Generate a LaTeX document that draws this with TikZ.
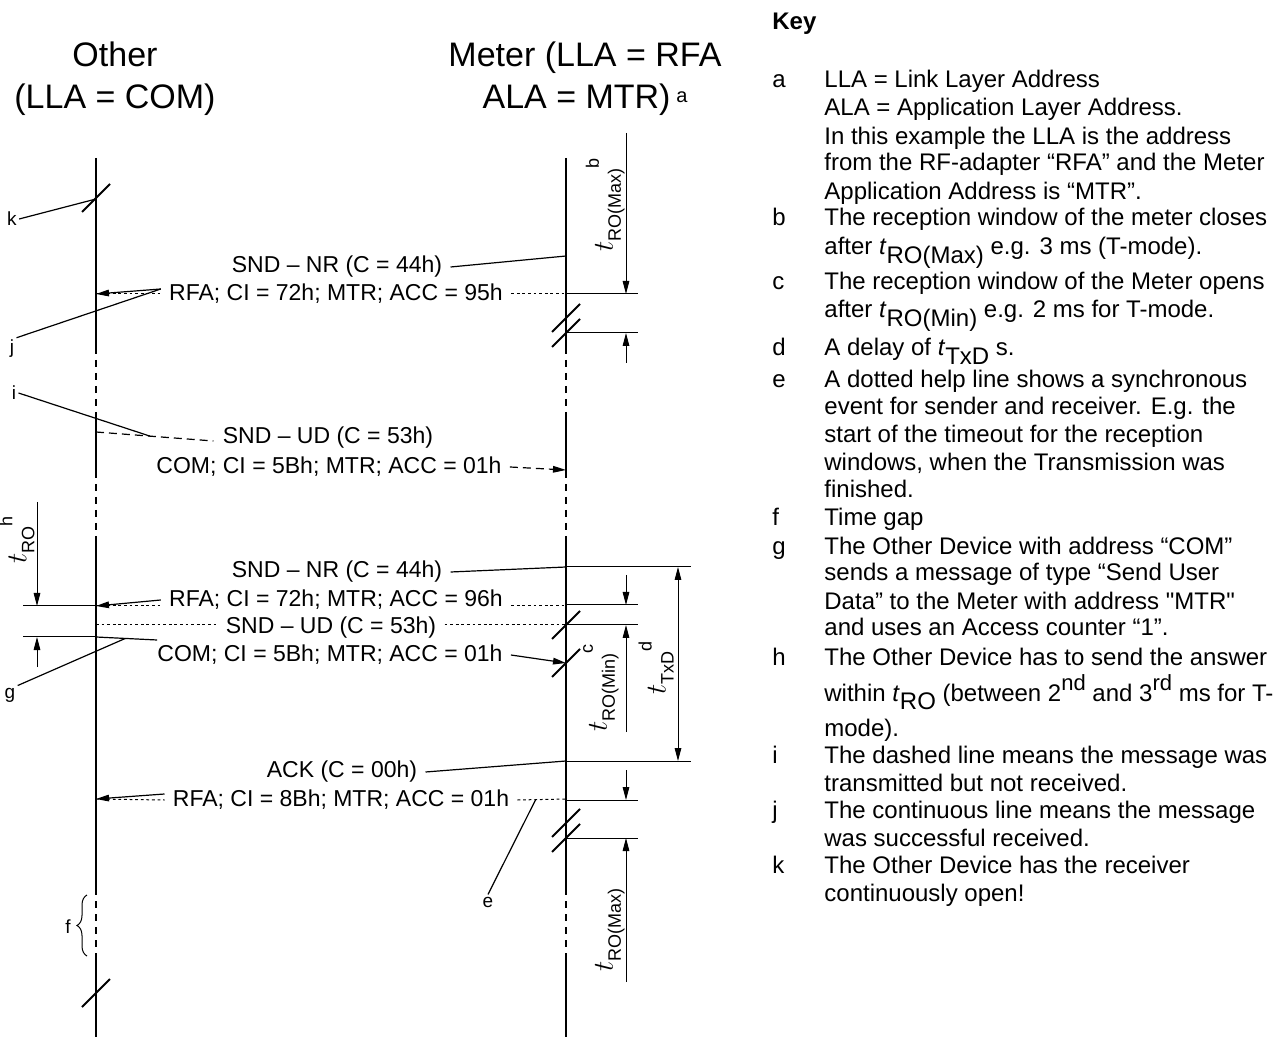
\documentclass[tikz,border=0pt]{standalone}
\usepackage{fontspec}
\setmainfont{Liberation Sans}
\usetikzlibrary{arrows.meta,calc,decorations.pathreplacing}

\newcommand{\tsym}[1]{{\fontsize{15}{15}\selectfont$t$}\raisebox{-4pt}{#1}}
\newcommand{\tagsup}[1]{\raisebox{7pt}{#1}}
\newcommand{\keysub}[1]{\raisebox{-0.35em}{#1}}
\newcommand{\keysup}[1]{\raisebox{0.45em}{\fontsize{11}{12}\selectfont #1}}

\tikzset{
	life/.style={line width=1.1pt},
	lifegap/.style={line width=1.1pt, dash pattern=on 3.5pt off 3pt, dash phase=3.5pt},
	thinline/.style={line width=0.5pt},
	leader/.style={line width=0.6pt},
	helpline/.style={line width=0.5pt, dash pattern=on 1.4pt off 1.4pt},
	lostmsg/.style={line width=0.6pt, dash pattern=on 4pt off 2.5pt},
	slashmark/.style={line width=1pt},
	msg/.style={font=\fontsize{11.5}{13}\selectfont, inner sep=4pt},
	head/.style={font=\fontsize{17}{21}\selectfont, align=center},
	dimlabel/.style={rotate=90, anchor=south, inner sep=0pt, font=\fontsize{9}{10}\selectfont},
	tag/.style={font=\fontsize{9.5}{11}\selectfont, inner sep=1pt},
	keytext/.style={anchor=base west, inner sep=0pt, font=\fontsize{12}{14}\selectfont},
	>={Triangle[length=6.5pt,width=3.3pt]},
}

\begin{document}
\begin{tikzpicture}[x=0.5pt, y=-0.5pt]
	\useasboundingbox (0,0) rectangle (1286,1037);

	% === lifelines ===
	\def\xo{96}	\def\xm{566}
	\foreach \x in {\xo,\xm} {
		\draw[life]    (\x,158) -- (\x,354);
		\draw[lifegap] (\x,354) -- (\x,413);
		\draw[life]    (\x,413) -- (\x,478);
		\draw[lifegap] (\x,478) -- (\x,538);
		\draw[life]    (\x,538) -- (\x,895);
		\draw[lifegap] (\x,895) -- (\x,955);
		\draw[life]    (\x,955) -- (\x,1037);
	}
	\foreach \sx/\sy in {\xm/318, \xm/333, \xm/625, \xm/663, \xm/823, \xm/838, \xo/198, \xo/993}
		\draw[slashmark] (\sx-14,\sy+14) -- (\sx+14,\sy-14);

	% === headers ===
	\node[head] (other) at (115,79) {Other\\(LLA = COM)};
	\node[head] (meter) at (585,79) {Meter (LLA = RFA\\ALA = MTR)\,\raisebox{3pt}{\fontsize{10}{10}\selectfont a}};

	% === first exchange ===
	\node[msg] (snr1) at (337,267) {SND – NR (C = 44h)};
	\node[msg] (rfa1) at (336,294) {RFA; CI = 72h; MTR; ACC = 95h};
	\coordinate (m1) at (\xm,256);
	\coordinate (o1) at (\xo,294);
	\coordinate (m2) at (\xm,294);
	\coordinate (j1) at ($(rfa1.west)+(0,-5)$);
	\draw[leader] (snr1.east) -- (m1);
	\draw[leader,->] (j1) -- (o1);
	\draw[helpline] (o1) -- (rfa1.west);
	\draw[helpline] (rfa1.east) -- (m2);

	% === lost message ===
	\node[msg] (sud1) at (328,438) {SND – UD (C = 53h)};
	\node[msg] (com1) at (329,467) {COM; CI = 5Bh; MTR; ACC = 01h};
	\coordinate (o2) at (\xo,432);
	\coordinate (u1) at ($(sud1.west)+(-1,3)$);
	\coordinate (m3) at (\xm,470);
	\coordinate (i1) at ($(o2)!0.46!(u1)$);
	\draw[lostmsg] (o2) -- (u1);
	\draw[lostmsg,->] (com1.east) -- (m3);

	% === second exchange ===
	\node[msg] (snr2) at (337,572) {SND – NR (C = 44h)};
	\node[msg] (rfa2) at (336,600) {RFA; CI = 72h; MTR; ACC = 96h};
	\node[msg] (sud2) at (331,628) {SND – UD (C = 53h)};
	\node[msg] (com2) at (330,655) {COM; CI = 5Bh; MTR; ACC = 01h};
	\coordinate (m4) at (\xm,567);
	\coordinate (o3) at (\xo,606);
	\coordinate (m5) at (\xm,606);
	\coordinate (o4) at (\xo,625);
	\coordinate (m6) at (\xm,625);
	\coordinate (o5) at (\xo,637);
	\coordinate (m7) at (\xm,663);
	\coordinate (c2) at ($(com2.west)+(8,-15)$);
	\coordinate (g1) at ($(o5)!0.48!(c2)$);
	\draw[leader] (snr2.east) -- (m4);
	\draw[leader,->] (rfa2.west) -- (o3);
	\draw[helpline] (o3) -- ($(rfa2.west)+(0,6)$);
	\draw[helpline] ($(rfa2.east)+(0,6)$) -- (m5);
	\draw[helpline] (o4) -- ($(sud2.west)+(0,-3)$);
	\draw[helpline] ($(sud2.east)+(0,-3)$) -- (m6);
	\draw[leader] (o5) -- (c2);
	\draw[leader,->] (com2.east) -- (m7);

	% === acknowledge ===
	\node[msg] (ack) at (342,772) {ACK (C = 00h)};
	\node[msg] (rfa3) at (341,800) {RFA; CI = 8Bh; MTR; ACC = 01h};
	\coordinate (m8) at (\xm,761);
	\coordinate (o6) at (\xo,799);
	\coordinate (m9) at (\xm,799);
	\coordinate (e1) at ($(rfa3.east)+(18,0)$);
	\draw[leader] (ack.east) -- (m8);
	\draw[leader,->] ($(rfa3.west)+(0,-6)$) -- (o6);
	\draw[helpline] (o6) -- (rfa3.west);
	\draw[helpline] (rfa3.east) -- (m9);

	% === dimensions, meter side ===
	\foreach \y in {294, 333, 605, 625, 800, 838}
		\draw[thinline] (\xm,\y) -- (638,\y);
	\foreach \y in {567, 761}
		\draw[thinline] (\xm,\y) -- (691,\y);
	\draw[thinline,->] (626,133) -- (626,294);
	\draw[thinline,->] (626,363) -- (626,333);
	\draw[thinline,->] (626,575) -- (626,605);
	\draw[thinline,->] (626,732) -- (626,625);
	\draw[thinline,<->] (678,567) -- (678,761);
	\draw[thinline,->] (626,770) -- (626,800);
	\draw[thinline,->] (626,982) -- (626,838);
	\node[dimlabel] (romax1) at (625,205) {\tsym{RO(Max)}\tagsup{b}};
	\node[dimlabel] (romin)  at (619,688) {\tsym{RO(Min)}\tagsup{c}};
	\node[dimlabel] (txd)    at (674,668) {\tsym{TxD}\tagsup{d}};
	\node[dimlabel] (romax2) at (625,930) {\tsym{RO(Max)}};

	% === dimension, other side ===
	\draw[thinline] (23,606) -- (o3);
	\draw[thinline] (23,637) -- (o5);
	\draw[thinline,->] (37,502) -- (37,606);
	\draw[thinline,->] (37,667) -- (37,637);
	\node[dimlabel] (ro) at (35,540) {\tsym{RO}\tagsup{h}};

	% === key letters in the figure ===
	\coordinate (k1) at (\xo,199);
	\node[tag] (k) at (12,219) {k};
	\node[tag] (j) at (12,349) {j};
	\node[tag] (i) at (14,393) {i};
	\node[tag] (g) at (10,695) {g};
	\node[tag] (f) at (68,927) {f};
	\node[tag] (e) at (488,902) {e};
	\draw[leader] (k.east) -- (k1);
	\draw[leader] (j.north east) -- (j1);
	\draw[leader] (i.east) -- (i1);
	\draw[leader] (g.north east) -- (g1);
	\draw[leader] (e.north) -- (e1);
	\draw[thinline, decorate, decoration={brace, amplitude=5pt}] (87,956) -- (87,895);

	% === key ===
	\node[keytext, font=\bfseries\fontsize{12}{14}\selectfont] (key) at (772,30) {Key};
	\foreach \yy/\lt in {88/a, 226/b, 290/c, 356/d, 388/e, 526/f, 555/g, 665/h, 763/i, 818/j, 873/k}
		\node[keytext] (key-\lt) at (772,\yy) {\lt};
	\foreach \yy/\txt [count=\nn] in {
		88/{LLA = Link Layer Address},
		116/{ALA = Application Layer Address.},
		145/{In this example the LLA is the address},
		171/{from the RF-adapter “RFA” and the Meter},
		200/{Application Address is “MTR”.},
		226/{The reception window of the meter closes},
		255/{after \textit{t}\keysub{RO(Max)} e.g. 3 ms (T-mode).},
		290/{The reception window of the Meter opens},
		318/{after \textit{t}\keysub{RO(Min)} e.g. 2 ms for T-mode.},
		356/{A delay of \textit{t}\keysub{TxD} s.},
		388/{A dotted help line shows a synchronous},
		415/{event for sender and receiver. E.g. the},
		443/{start of the timeout for the reception},
		471/{windows, when the Transmission was},
		498/{finished.},
		526/{Time gap},
		555/{The Other Device with address “COM”},
		581/{sends a message of type “Send User},
		610/{Data” to the Meter with address \textquotedbl MTR\textquotedbl},
		636/{and uses an Access counter “1”.},
		665/{The Other Device has to send the answer},
		701/{within \textit{t}\keysub{RO} (between 2\keysup{nd} and 3\keysup{rd} ms for T-},
		736/{mode).},
		763/{The dashed line means the message was},
		791/{transmitted but not received.},
		818/{The continuous line means the message},
		846/{was successful received.},
		873/{The Other Device has the receiver},
		901/{continuously open!}}
		\node[keytext] (keyline-\nn) at (824,\yy) {\txt};
\end{tikzpicture}
\end{document}
